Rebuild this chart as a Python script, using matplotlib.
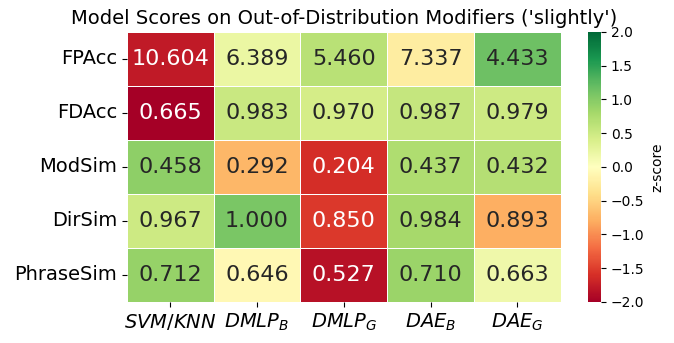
import numpy as np
import matplotlib
matplotlib.use("Agg")
import matplotlib.pyplot as plt
import seaborn as sns

# models (columns) and metrics (rows)
models = ["$SVM/KNN$", "$DMLP_B$", "$DMLP_G$", "$DAE_B$", "$DAE_G$"]
metrics = ["FPAcc", "FDAcc", "ModSim", "DirSim", "PhraseSim"]

fpacc = [10.604, 6.389, 5.460, 7.337, 4.433]
fdacc = [0.665, 0.983, 0.970, 0.987, 0.979]
modsim = [0.458, 0.292, 0.204, 0.437, 0.432]
dirsim = [0.967, 1.000, 0.850, 0.984, 0.893]
phrasesim = [0.712, 0.646, 0.527, 0.710, 0.663]

scores = np.array([fpacc, fdacc, modsim, dirsim, phrasesim])

# z-score per row, FPAcc is lower-is-better so it gets flipped
z = (scores - scores.mean(axis=1, keepdims=True)) / scores.std(axis=1, keepdims=True)
z[0] = -z[0]

fig = plt.figure(figsize=(6.74, 3.43), dpi=100)
ax = fig.add_axes([0.188, 0.12, 0.644, 0.787])
cax = fig.add_axes([0.872, 0.12, 0.02, 0.787])

sns.heatmap(z, annot=scores, fmt=".3f", cmap="RdYlGn", vmin=-2, vmax=2,
            linewidths=0.5, linecolor="white", ax=ax, cbar_ax=cax,
            annot_kws={"fontsize": 16},
            xticklabels=models, yticklabels=metrics,
            cbar_kws={"label": "z-score"})

ax.set_title("Model Scores on Out-of-Distribution Modifiers ('slightly')", fontsize=14)
ax.tick_params(axis="x", labelsize=14, rotation=0)
ax.tick_params(axis="y", labelsize=14, rotation=0)
cax.set_yticks(np.arange(-2, 2.01, 0.5))
cax.tick_params(labelsize=10)

fig.savefig("out.png", dpi=100)
